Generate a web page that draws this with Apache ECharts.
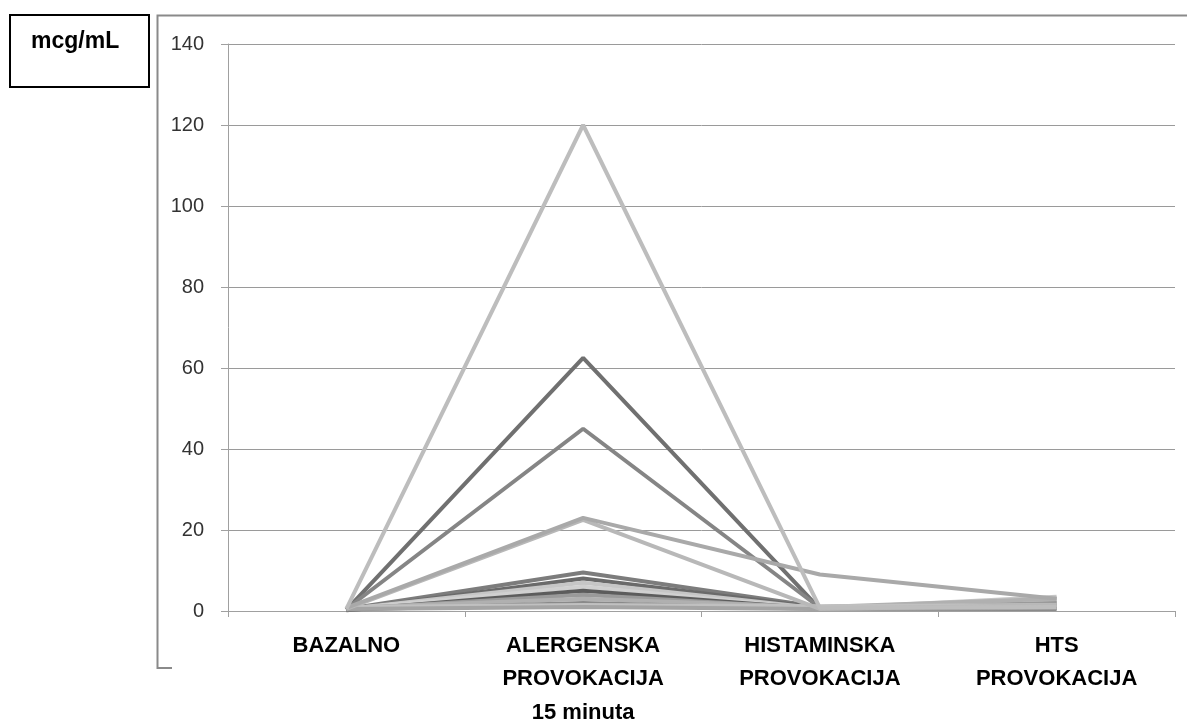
<!DOCTYPE html>
<html>
<head>
<meta charset="utf-8">
<script src="https://cdn.jsdelivr.net/npm/echarts@6/dist/echarts.min.js"></script>
<style>
html,body{margin:0;padding:0;background:#fff;}
#chart{width:1187px;height:726px;}
</style>
</head>
<body>
<div id="chart"></div>
<script>
// Categories (x axis)
var categories = ['BAZALNO', 'ALERGENSKA\nPROVOKACIJA\n15 minuta', 'HISTAMINSKA\nPROVOKACIJA', 'HTS\nPROVOKACIJA'];
// Y tick labels
var yTicks = [0, 20, 40, 60, 80, 100, 120, 140];
var unitLabel = 'mcg/mL';

// Series values (mcg/mL): bazalno, alergenska, histaminska, HTS
var s01 = [0.3, 62.5, 0.5, 0.8];
var s02 = [0.5, 45, 0.8, 1.2];
var s03 = [0.5, 9.5, 1.0, 2.0];
var s04 = [0.3, 8, 0.8, 1.5];
var s05 = [0.5, 7, 0.6, 3.5];
var s06 = [0.5, 6, 0.5, 2.5];
var s07 = [0.2, 5, 0.5, 1.0];
var s08 = [0.5, 4, 0.6, 2.0];
var s09 = [0.8, 3, 1.0, 3.0];
var s10 = [0.3, 2, 0.5, 0.5];
var s11 = [1.0, 1.5, 1.2, 1.5];
var s12 = [0.5, 1, 0.5, 0.8];
var s13 = [0.5, 22.5, 0.5, 1.5];
var s14 = [0.8, 23, 9, 3.0];
var s15 = [0.5, 120, 0.8, 1.0];

var seriesData = [s01, s02, s03, s04, s05, s06, s07, s08, s09, s10, s11, s12, s13, s14, s15];
var seriesColors = ['#707070', '#858585', '#7c7c7c', '#6a6a6a', '#c6c6c6', '#d0d0d0', '#5c5c5c', '#9a9a9a', '#b0b0b0', '#8a8a8a', '#c0c0c0', '#a4a4a4', '#b8b8b8', '#a9a9a9', '#bdbdbd'];

var chart = echarts.init(document.getElementById('chart'));
chart.setOption({
  animation: false,
  backgroundColor: '#fff',
  grid: {left: 228, right: 12, top: 44, bottom: 115, containLabel: false, outerBoundsMode: 'none'},
  xAxis: {
    type: 'category',
    data: categories,
    boundaryGap: true,
    axisLine: {show: true, lineStyle: {color: '#a0a0a0', width: 1}},
    axisTick: {show: true, length: 6, alignWithLabel: false, lineStyle: {color: '#a0a0a0'}},
    axisLabel: {
      interval: 0,
      margin: 18,
      color: '#000',
      fontFamily: 'Liberation Sans, Arial, sans-serif',
      fontWeight: 'bold',
      fontSize: 22,
      lineHeight: 33.5
    },
    splitLine: {show: false}
  },
  yAxis: {
    type: 'value',
    min: yTicks[0],
    max: yTicks[yTicks.length - 1],
    interval: 20,
    axisLine: {show: true, lineStyle: {color: '#a0a0a0', width: 1}},
    axisTick: {show: true, length: 7, lineStyle: {color: '#a0a0a0'}},
    axisLabel: {
      margin: 24,
      color: '#333',
      fontFamily: 'Liberation Sans, Arial, sans-serif',
      fontSize: 20
    },
    splitLine: {show: true, lineStyle: {color: '#9a9a9a', width: 1}}
  },
  series: seriesData.map(function (d, i) {
    return {
      type: 'line',
      data: d,
      symbol: 'none',
      lineStyle: {color: seriesColors[i], width: 4},
      itemStyle: {color: seriesColors[i]},
      z: 2 + i
    };
  }),
  graphic: [
    {type: 'polyline', shape: {points: [[1187, 15.5], [157.5, 15.5], [157.5, 668], [172, 668]]}, style: {stroke: '#8a8a8a', lineWidth: 2, fill: null}, silent: true},
    {type: 'rect', shape: {x: 10, y: 15, width: 139, height: 72}, style: {stroke: '#000', lineWidth: 2, fill: '#fff'}, silent: true},
    {type: 'text', left: 31, top: 30, style: {text: unitLabel, font: 'bold 23px "Liberation Sans", Arial, sans-serif', fill: '#000'}, silent: true}
  ]
});
</script>
</body>
</html>
